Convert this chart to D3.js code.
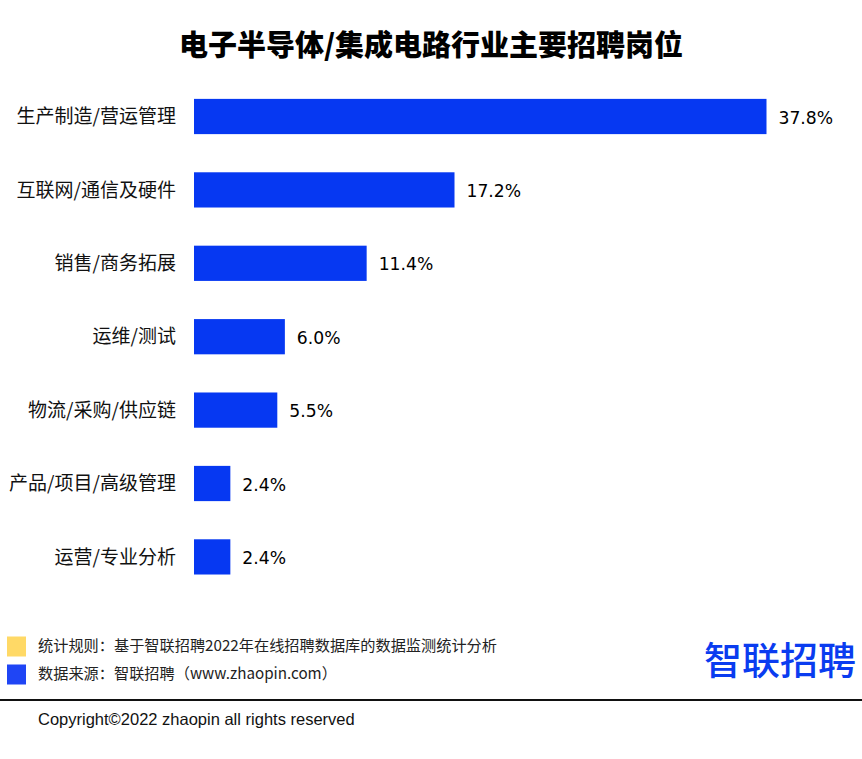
<!DOCTYPE html>
<html><head><meta charset="utf-8">
<script src="https://cdn.jsdelivr.net/npm/d3@7"></script>
<style>body{margin:0;background:#fff}svg{display:block}</style>
</head><body>
<script>
const categories = ["生产制造/营运管理","互联网/通信及硬件","销售/商务拓展","运维/测试","物流/采购/供应链","产品/项目/高级管理","运营/专业分析"];
const values = [37.8, 17.2, 11.4, 6.0, 5.5, 2.4, 2.4];
const title = "电子半导体/集成电路行业主要招聘岗位";
const legendItems = ["统计规则：基于智联招聘2022年在线招聘数据库的数据监测统计分析","数据来源：智联招聘（www.zhaopin.com）"];
const legendColors = ["#ffd966","#1f45f5"];

const W = 862, H = 759;
const svg = d3.select("body").append("svg").attr("width", W).attr("height", H);
svg.append("rect").attr("width", W).attr("height", H).attr("fill", "#fff");
const cjk = "'Noto Sans CJK SC', sans-serif";

svg.append("text").attr("x", 431).attr("y", 56).attr("text-anchor", "middle")
  .attr("font-family", cjk).attr("font-weight", 900).attr("font-size", 29).attr("fill", "#000").text(title);

const x = d3.scaleLinear().domain([0, 37.8]).range([194, 766.5]);
const y = d3.scaleBand().domain(categories).range([79.8, 593.6]).paddingInner(0.52).paddingOuter(0.26);

svg.selectAll("rect.bar").data(values).join("rect").attr("class","bar")
  .attr("x", x(0)).attr("y", (d,i) => y(categories[i]))
  .attr("width", d => x(d) - x(0)).attr("height", y.bandwidth()).attr("fill", "#0638f2");

svg.selectAll("text.cat").data(categories).join("text").attr("class","cat")
  .attr("x", 176).attr("y", d => y(d) + y.bandwidth()/2).attr("dy", "0.35em")
  .attr("text-anchor", "end").attr("font-family", cjk).attr("font-size", 19).attr("fill", "#111").text(d => d);

svg.selectAll("text.val").data(values).join("text").attr("class","val")
  .attr("x", d => x(d) + 12).attr("y", (d,i) => y(categories[i]) + y.bandwidth()/2 + 1).attr("dy", "0.35em")
  .attr("font-family", "'DejaVu Sans', sans-serif").attr("font-size", 17.2).attr("fill", "#000")
  .text(d => d.toFixed(1) + "%");

legendItems.forEach((t, i) => {
  const cy = 646 + i * 28;
  svg.append("rect").attr("x", 7).attr("y", cy - 9.5).attr("width", 19).attr("height", 20).attr("fill", legendColors[i]);
  svg.append("text").attr("x", 38).attr("y", cy).attr("dy", "0.35em")
    .attr("font-family", cjk).attr("font-size", 15.2).attr("fill", "#222").text(t);
});

svg.append("text").attr("x", 856).attr("y", 674).attr("text-anchor", "end")
  .attr("font-family", cjk).attr("font-weight", 500).attr("font-size", 38).attr("fill", "#0a3cf0").text("智联招聘");

svg.append("line").attr("x1", 0).attr("x2", W).attr("y1", 700).attr("y2", 700).attr("stroke", "#111").attr("stroke-width", 2);
svg.append("text").attr("x", 38).attr("y", 719).attr("dy", "0.35em")
  .attr("font-family", "'Liberation Sans', Arial, sans-serif").attr("font-size", 16.5).attr("fill", "#111").text("Copyright©2022 zhaopin all rights reserved");
</script>
</body></html>
